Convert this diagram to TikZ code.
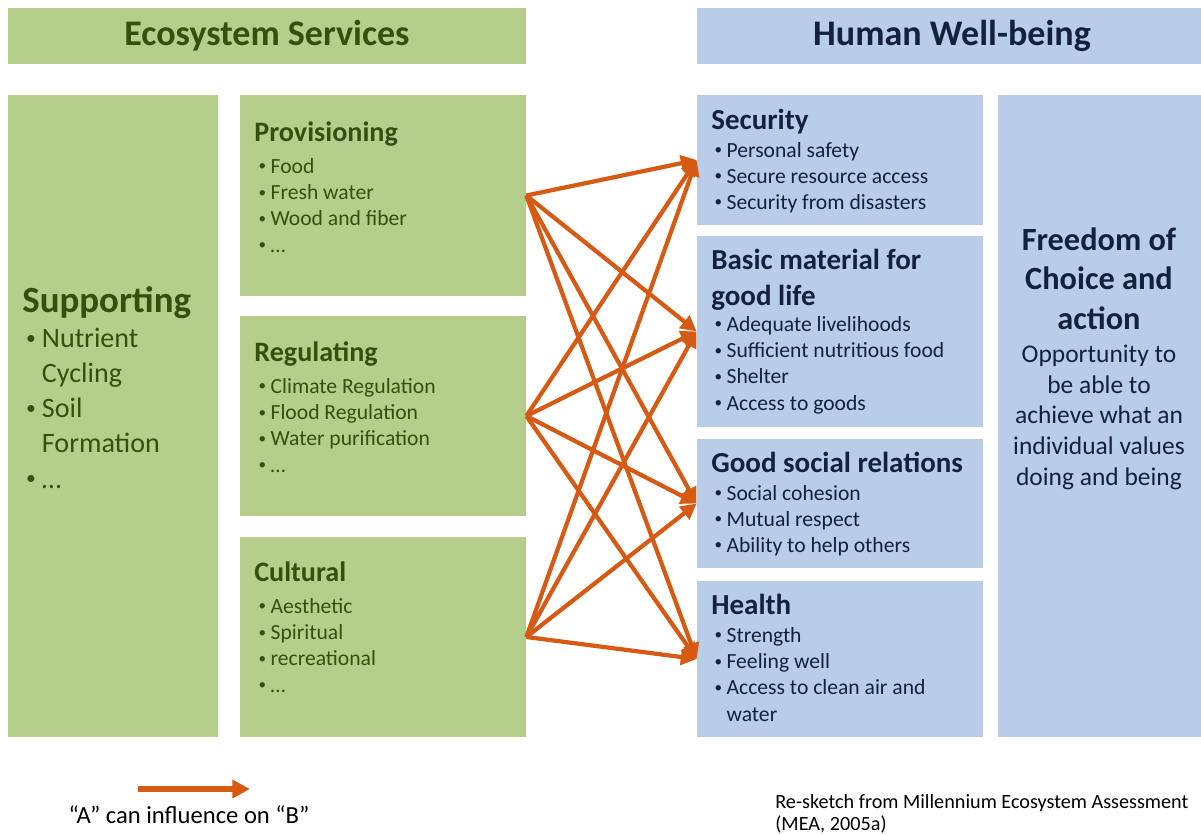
\documentclass[tikz,border=0pt]{standalone}
\usepackage{fontspec}
\setmainfont{Carlito}
\usetikzlibrary{fit,calc,arrows.meta}

\definecolor{esfill}{HTML}{B5CE8B}
\definecolor{estext}{HTML}{34500F}
\definecolor{hwfill}{HTML}{B9CDE8}
\definecolor{hwtext}{HTML}{14213D}
\definecolor{arrowc}{HTML}{D65A14}

% small bullet with a fixed indent, and the matching indent for wrapped lines
\newcommand{\bul}{\makebox[0.66em][l]{\hspace*{0.1em}\raisebox{0.12em}{\scalebox{0.7}{\textbullet}}}}
\newcommand{\cont}{\hspace*{0.66em}}

\begin{document}
\begin{tikzpicture}[x=0.02cm,y=-0.02cm,
  esbox/.style={fill=esfill, draw=none, inner sep=0pt},
  hwbox/.style={fill=hwfill, draw=none, inner sep=0pt},
  hdr/.style={inner sep=0pt, font=\fontsize{20.5}{24}\selectfont\bfseries},
  % multi-line text nodes are placed by the baseline of their last line
  eshead/.style={anchor=base west, inner sep=0pt, text=estext,
    font=\fontsize{16}{19}\selectfont\bfseries},
  esitems/.style={anchor=base west, inner sep=0pt, align=left, text=estext,
    font=\fontsize{12.3}{14.9}\selectfont},
  hwhead/.style={anchor=base west, inner sep=0pt, align=left, text=hwtext,
    font=\fontsize{16.5}{20.4}\selectfont\bfseries},
  hwitems/.style={anchor=base west, inner sep=0pt, align=left, text=hwtext,
    font=\fontsize{12.3}{14.9}\selectfont},
  influence/.style={draw=arrowc, line width=2.4pt,
    -{Triangle[length=9pt,width=9pt]}},
  note/.style={inner sep=0pt, text=black}
]
\useasboundingbox[fill=white] (0,0) rectangle (1201,835);

% column headers
\node[esbox, fit={(8,8) (526,64)}] (eshdr) {};
\node[hwbox, fit={(697,8) (1201,64)}] (hwhdr) {};
\node[hdr, text=estext] (eshdrt) at (eshdr.center) {Ecosystem Services};
\node[hdr, text=hwtext] (hwhdrt) at ($(hwhdr.center)+(3,0)$) {Human Well-being};

% ecosystem service boxes
\node[esbox, fit={(8,95) (218,737)}] (sup) {};
\node[esbox, fit={(240,95) (526,296)}] (prov) {};
\node[esbox, fit={(240,316) (526,516)}] (reg) {};
\node[esbox, fit={(240,537) (526,737)}] (cult) {};

% well-being boxes
\node[hwbox, fit={(697,95) (983,225)}] (sec) {};
\node[hwbox, fit={(697,236) (983,427)}] (basic) {};
\node[hwbox, fit={(697,439) (983,568)}] (social) {};
\node[hwbox, fit={(697,581) (983,737)}] (health) {};
\node[hwbox, fit={(998,95) (1201,737)}] (free) {};

% Supporting
\node[eshead, font=\fontsize{21}{24}\selectfont\bfseries] (suph) at (22,312) {Supporting};
\node[esitems, font=\fontsize{16}{20}\selectfont] (supi) at (23,488)
  {\bul Nutrient\\ \cont Cycling\\ \bul Soil\\ \cont Formation\\ \bul \dots};

% Provisioning
\node[eshead] (provh) at (254,141) {Provisioning};
\node[esitems] (provi) at (256,252)
  {\bul Food\\ \bul Fresh water\\ \bul Wood and fiber\\ \bul \dots};

% Regulating
\node[eshead] (regh) at (254,361) {Regulating};
\node[esitems] (regi) at (256,472)
  {\bul Climate Regulation\\ \bul Flood Regulation\\ \bul Water purification\\ \bul \dots};

% Cultural
\node[eshead] (culth) at (254,581) {Cultural};
\node[esitems] (culti) at (256,692)
  {\bul Aesthetic\\ \bul Spiritual\\ \bul recreational\\ \bul \dots};

% Security
\node[hwhead] (sech) at (711,129) {Security};
\node[hwitems] (seci) at (712,209.5)
  {\bul Personal safety\\ \bul Secure resource access\\ \bul Security from disasters};

% Basic material
\node[hwhead] (basich) at (711,305) {Basic material for\\ good life};
\node[hwitems] (basici) at (712,410)
  {\bul Adequate livelihoods\\ \bul Sufficient nutritious food\\ \bul Shelter\\ \bul Access to goods};

% Good social relations
\node[hwhead] (socialh) at (711,472) {Good social relations};
\node[hwitems] (sociali) at (712,552.5)
  {\bul Social cohesion\\ \bul Mutual respect\\ \bul Ability to help others};

% Health
\node[hwhead] (healthh) at (711,614) {Health};
\node[hwitems] (healthi) at (712,721)
  {\bul Strength\\ \bul Feeling well\\ \bul Access to clean air and\\ \cont water};

% Freedom of choice
\node[anchor=base, inner sep=0pt, align=center, text=hwtext,
  font=\fontsize{18.4}{22.4}\selectfont\bfseries] (freeh) at (1099,329)
  {Freedom of\\ Choice and\\ action};
\node[anchor=base, inner sep=0pt, align=center, text=hwtext,
  font=\fontsize{14.5}{17.4}\selectfont] (freei) at (1099,485)
  {Opportunity to\\ be able to\\ achieve what an\\ individual values\\ doing and being};

% influence arrows
\foreach \s in {prov,reg,cult}
  \foreach \t in {sec,basic,social,health}
    \draw[influence] (\s.east) -- (\t.west);

% legend
\coordinate (legA) at (138,789);
\coordinate (legB) at (250,789);
\draw[influence, line width=3pt, -{Triangle[length=10pt,width=10pt]}] (legA) -- (legB);
\node[note, anchor=base, font=\fontsize{14}{17}\selectfont] (legt) at (189,823)
  {“A” can influence on “B”};

% source note
\node[note, anchor=base west, align=left, font=\fontsize{11.5}{12.5}\selectfont] (src) at (775,830)
  {Re-sketch from Millennium Ecosystem Assessment\\ (MEA, 2005a)};
\end{tikzpicture}
\end{document}
